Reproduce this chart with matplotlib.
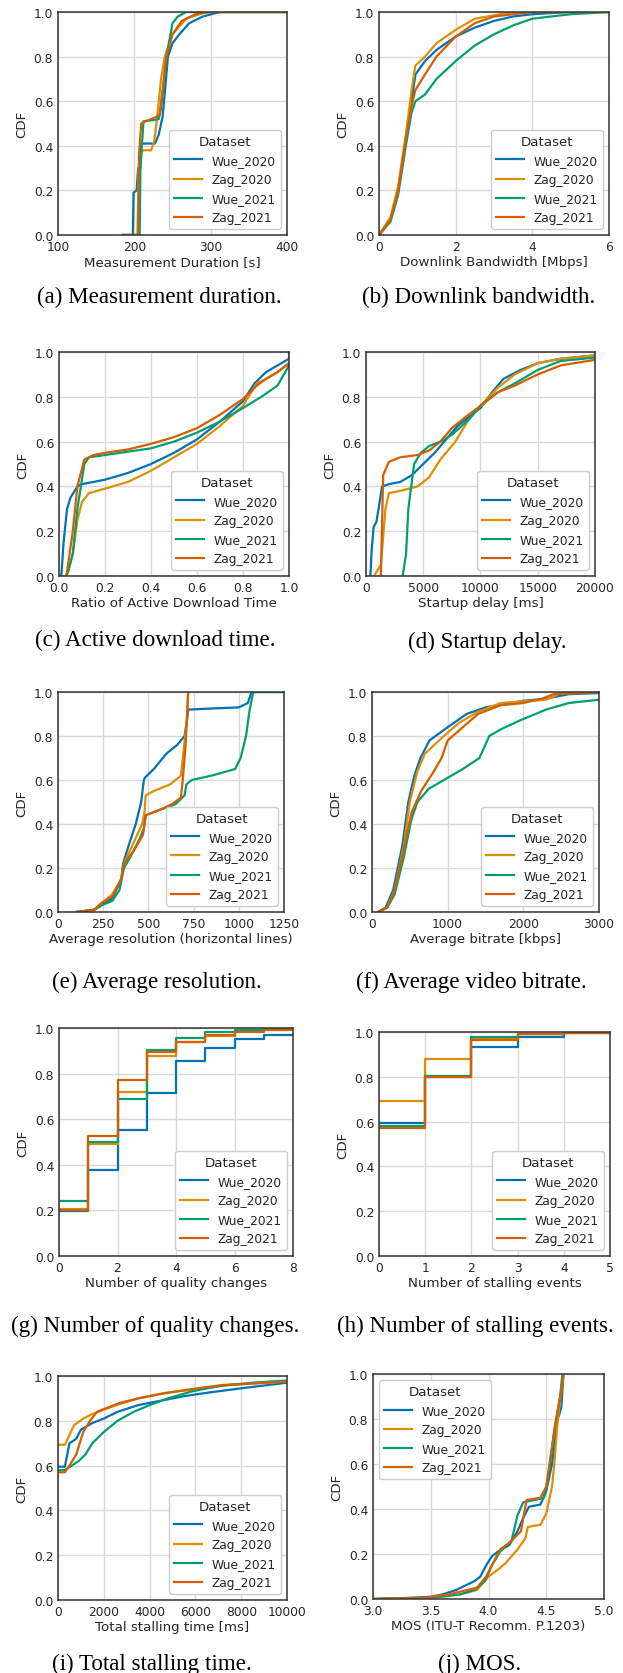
import matplotlib
matplotlib.use("Agg")
import matplotlib.pyplot as plt

W, H = 623, 1674
DPI = 100

datasets = ["Wue_2020", "Zag_2020", "Wue_2021", "Zag_2021"]
colors = ["#0173B2", "#DE8F05", "#029E73", "#D55E00"]

# ---------------- (a) Measurement duration [s] ----------------
dur_wue20_x = [185, 198, 199, 203, 205, 208, 209, 215, 227, 232, 237, 241, 244, 250, 259, 272, 290, 312, 400]
dur_wue20_y = [0.0, 0.0, 0.19, 0.20, 0.30, 0.30, 0.41, 0.41, 0.41, 0.45, 0.53, 0.68, 0.80, 0.86, 0.90, 0.95, 0.98, 1.0, 1.0]
dur_zag20_x = [185, 204, 206, 209, 212, 222, 226, 229, 235, 240, 250, 268, 294, 400]
dur_zag20_y = [0.0, 0.0, 0.30, 0.37, 0.38, 0.38, 0.42, 0.50, 0.70, 0.80, 0.90, 0.97, 1.0, 1.0]
dur_wue21_x = [185, 207, 208, 212, 225, 232, 235, 242, 250, 257, 268, 400]
dur_wue21_y = [0.0, 0.0, 0.30, 0.51, 0.515, 0.52, 0.57, 0.80, 0.95, 0.98, 1.0, 1.0]
dur_zag21_x = [185, 205, 206, 209, 215, 229, 233, 237, 242, 250, 262, 280, 300, 400]
dur_zag21_y = [0.0, 0.0, 0.35, 0.50, 0.51, 0.53, 0.54, 0.65, 0.80, 0.90, 0.96, 0.99, 1.0, 1.0]

# ---------------- (b) Downlink bandwidth [Mbps] ----------------
bw_wue20_x = [0, 0.3, 0.5, 0.7, 0.85, 0.95, 1.2, 1.5, 2.0, 2.5, 3.0, 3.5, 4.0, 5.0, 6.0]
bw_wue20_y = [0, 0.07, 0.2, 0.42, 0.6, 0.72, 0.78, 0.83, 0.89, 0.93, 0.96, 0.98, 0.99, 1.0, 1.0]
bw_zag20_x = [0, 0.3, 0.5, 0.7, 0.85, 0.95, 1.2, 1.5, 2.0, 2.5, 3.0, 3.5, 6.0]
bw_zag20_y = [0, 0.08, 0.22, 0.45, 0.65, 0.76, 0.80, 0.86, 0.92, 0.97, 0.985, 1.0, 1.0]
bw_wue21_x = [0, 0.3, 0.5, 0.7, 0.85, 0.95, 1.2, 1.5, 2.0, 2.5, 3.0, 3.5, 4.0, 4.5, 5.0, 6.0]
bw_wue21_y = [0, 0.06, 0.18, 0.40, 0.55, 0.60, 0.63, 0.70, 0.78, 0.85, 0.90, 0.94, 0.97, 0.98, 0.99, 1.0]
bw_zag21_x = [0, 0.3, 0.5, 0.7, 0.85, 0.95, 1.2, 1.5, 2.0, 2.5, 3.0, 3.5, 4.0, 6.0]
bw_zag21_y = [0, 0.07, 0.2, 0.43, 0.58, 0.65, 0.72, 0.80, 0.89, 0.95, 0.98, 0.99, 1.0, 1.0]

# ---------------- (c) Ratio of active download time ----------------
adt_wue20_x = [0.01, 0.02, 0.035, 0.05, 0.08, 0.1, 0.2, 0.3, 0.4, 0.5, 0.6, 0.7, 0.8, 0.85, 0.9, 0.95, 1.0, 1.0]
adt_wue20_y = [0.0, 0.15, 0.30, 0.35, 0.40, 0.41, 0.43, 0.46, 0.50, 0.55, 0.61, 0.69, 0.78, 0.86, 0.91, 0.94, 0.97, 1.0]
adt_zag20_x = [0.03, 0.04, 0.06, 0.08, 0.1, 0.13, 0.2, 0.3, 0.4, 0.5, 0.6, 0.7, 0.8, 0.86, 0.9, 0.95, 1.0]
adt_zag20_y = [0.0, 0.02, 0.10, 0.25, 0.33, 0.37, 0.39, 0.42, 0.47, 0.53, 0.59, 0.67, 0.76, 0.86, 0.88, 0.91, 0.95]
adt_wue21_x = [0.03, 0.04, 0.06, 0.08, 0.11, 0.13, 0.2, 0.3, 0.4, 0.5, 0.6, 0.7, 0.8, 0.88, 0.95, 1.0]
adt_wue21_y = [0.0, 0.02, 0.10, 0.30, 0.50, 0.53, 0.54, 0.555, 0.57, 0.60, 0.64, 0.69, 0.75, 0.80, 0.85, 0.94]
adt_zag21_x = [0.03, 0.035, 0.06, 0.08, 0.11, 0.15, 0.2, 0.3, 0.4, 0.5, 0.6, 0.7, 0.8, 0.86, 0.9, 0.95, 1.0]
adt_zag21_y = [0.0, 0.02, 0.20, 0.40, 0.52, 0.54, 0.55, 0.565, 0.59, 0.62, 0.66, 0.72, 0.79, 0.85, 0.88, 0.91, 0.95]

# ---------------- (d) Startup delay [ms] ----------------
sd_wue20_x = [380, 500, 670, 900, 1100, 1400, 2000, 3000, 4000, 5000, 6000, 7000, 8000, 10000, 11000, 12000, 13500, 15000, 17000, 20000]
sd_wue20_y = [0.0, 0.12, 0.22, 0.24, 0.30, 0.40, 0.41, 0.42, 0.45, 0.50, 0.55, 0.61, 0.67, 0.75, 0.82, 0.88, 0.92, 0.95, 0.97, 0.985]
sd_zag20_x = [700, 1300, 1700, 2000, 3000, 4500, 5500, 6500, 7800, 9000, 10000, 11500, 13000, 15000, 17000, 20000]
sd_zag20_y = [0.0, 0.05, 0.30, 0.37, 0.38, 0.40, 0.44, 0.52, 0.60, 0.70, 0.76, 0.84, 0.90, 0.95, 0.97, 0.985]
sd_wue21_x = [3200, 3500, 3700, 4200, 4800, 5500, 6500, 7500, 9000, 10000, 11500, 13000, 15000, 17000, 20000]
sd_wue21_y = [0.0, 0.10, 0.30, 0.50, 0.55, 0.58, 0.60, 0.63, 0.70, 0.76, 0.82, 0.86, 0.92, 0.96, 0.975]
sd_zag21_x = [1300, 1500, 2000, 3000, 4500, 5500, 6500, 7500, 8700, 10000, 11500, 13000, 15000, 17000, 20000]
sd_zag21_y = [0.0, 0.45, 0.51, 0.53, 0.54, 0.56, 0.60, 0.66, 0.71, 0.76, 0.82, 0.85, 0.90, 0.94, 0.965]

# ---------------- (e) Average resolution ----------------
res_wue20_x = [100, 200, 240, 300, 350, 360, 390, 430, 460, 475, 480, 530, 600, 660, 700, 715, 720, 850, 1000, 1050, 1070, 1250]
res_wue20_y = [0.0, 0.01, 0.03, 0.06, 0.15, 0.22, 0.30, 0.40, 0.50, 0.60, 0.61, 0.65, 0.72, 0.76, 0.80, 0.88, 0.92, 0.925, 0.93, 0.95, 1.0, 1.0]
res_zag20_x = [100, 200, 240, 300, 350, 365, 410, 465, 478, 485, 530, 620, 680, 690, 710, 720]
res_zag20_y = [0.0, 0.01, 0.04, 0.08, 0.15, 0.22, 0.30, 0.40, 0.45, 0.53, 0.55, 0.58, 0.62, 0.70, 0.85, 1.0]
res_wue21_x = [100, 200, 240, 300, 340, 365, 400, 450, 475, 485, 550, 650, 700, 710, 740, 850, 980, 1010, 1040, 1060, 1080, 1250]
res_wue21_y = [0.0, 0.01, 0.03, 0.05, 0.10, 0.20, 0.25, 0.33, 0.38, 0.44, 0.46, 0.49, 0.53, 0.58, 0.60, 0.62, 0.65, 0.70, 0.80, 0.92, 1.0, 1.0]
res_zag21_x = [100, 200, 240, 300, 350, 365, 420, 470, 485, 550, 630, 680, 690, 705, 715, 720]
res_zag21_y = [0.0, 0.01, 0.04, 0.07, 0.15, 0.22, 0.28, 0.35, 0.44, 0.46, 0.49, 0.52, 0.60, 0.75, 0.90, 1.0]

# ---------------- (f) Average bitrate [kbps] ----------------
br_wue20_x = [80, 180, 280, 400, 480, 560, 640, 760, 1000, 1250, 1500, 2000, 2300, 2600, 3000]
br_wue20_y = [0.0, 0.02, 0.10, 0.30, 0.50, 0.62, 0.70, 0.78, 0.84, 0.90, 0.93, 0.96, 0.97, 0.99, 0.995]
br_zag20_x = [80, 200, 300, 420, 500, 600, 700, 950, 1150, 1400, 1700, 2100, 2300, 2500, 3000]
br_zag20_y = [0.0, 0.02, 0.10, 0.30, 0.50, 0.64, 0.72, 0.80, 0.86, 0.91, 0.95, 0.96, 0.965, 0.995, 1.0]
br_wue21_x = [80, 200, 300, 420, 520, 600, 750, 950, 1200, 1420, 1550, 1700, 1950, 2300, 2600, 3000]
br_wue21_y = [0.0, 0.02, 0.08, 0.25, 0.42, 0.50, 0.56, 0.60, 0.65, 0.70, 0.80, 0.83, 0.87, 0.92, 0.95, 0.965]
br_zag21_x = [80, 200, 300, 430, 520, 650, 800, 920, 1000, 1200, 1400, 1700, 2000, 2250, 2400, 3000]
br_zag21_y = [0.0, 0.02, 0.10, 0.30, 0.45, 0.55, 0.63, 0.70, 0.78, 0.84, 0.90, 0.94, 0.95, 0.97, 0.99, 1.0]

# ---------------- (g) Number of quality changes ----------------
qc_x = [0, 1, 2, 3, 4, 5, 6, 7, 8]
qc_wue20_y = [0.196, 0.379, 0.553, 0.715, 0.855, 0.912, 0.950, 0.970, 0.975]
qc_zag20_y = [0.205, 0.493, 0.719, 0.876, 0.939, 0.965, 0.985, 0.994, 0.995]
qc_wue21_y = [0.241, 0.500, 0.687, 0.905, 0.958, 0.982, 0.993, 1.0, 1.0]
qc_zag21_y = [0.200, 0.525, 0.773, 0.895, 0.940, 0.968, 0.982, 0.992, 0.995]

# ---------------- (h) Number of stalling events ----------------
se_x = [0, 1, 2, 3, 4, 5]
se_wue20_y = [0.593, 0.797, 0.935, 0.979, 0.995, 0.997]
se_zag20_y = [0.693, 0.878, 0.967, 0.993, 1.0, 1.0]
se_wue21_y = [0.580, 0.803, 0.978, 0.990, 0.997, 0.998]
se_zag21_y = [0.570, 0.800, 0.964, 0.993, 0.997, 0.998]

# ---------------- (i) Total stalling time [ms] ----------------
st_wue20_x = [0, 300, 500, 800, 1000, 1500, 2000, 2600, 3500, 4500, 5500, 6500, 8000, 10000]
st_wue20_y = [0.595, 0.595, 0.70, 0.72, 0.76, 0.79, 0.81, 0.84, 0.87, 0.89, 0.91, 0.925, 0.945, 0.97]
st_zag20_x = [0, 300, 700, 1100, 1500, 2000, 2700, 3500, 4700, 6000, 7500, 10000]
st_zag20_y = [0.693, 0.693, 0.78, 0.81, 0.83, 0.85, 0.875, 0.90, 0.925, 0.94, 0.96, 0.975]
st_wue21_x = [0, 300, 600, 900, 1200, 1500, 2000, 2600, 3300, 4000, 4800, 5800, 7000, 8500, 10000]
st_wue21_y = [0.58, 0.58, 0.60, 0.62, 0.65, 0.70, 0.75, 0.80, 0.84, 0.87, 0.90, 0.93, 0.955, 0.97, 0.98]
st_zag21_x = [0, 300, 500, 800, 1100, 1400, 1700, 2200, 2700, 3500, 4500, 5700, 7200, 10000]
st_zag21_y = [0.57, 0.57, 0.60, 0.65, 0.75, 0.80, 0.84, 0.86, 0.88, 0.90, 0.92, 0.94, 0.96, 0.975]

# ---------------- (j) MOS ----------------
mos_wue20_x = [3.0, 3.3, 3.5, 3.6, 3.72, 3.82, 3.88, 3.93, 3.98, 4.03, 4.08, 4.18, 4.25, 4.30, 4.35, 4.45, 4.50, 4.55, 4.60, 4.63, 4.65]
mos_wue20_y = [0.0, 0.005, 0.01, 0.02, 0.04, 0.065, 0.08, 0.10, 0.15, 0.19, 0.21, 0.24, 0.30, 0.36, 0.41, 0.42, 0.48, 0.60, 0.80, 0.85, 1.0]
mos_zag20_x = [3.0, 3.5, 3.75, 3.90, 4.0, 4.08, 4.15, 4.25, 4.32, 4.34, 4.45, 4.50, 4.55, 4.57, 4.60, 4.65]
mos_zag20_y = [0.0, 0.005, 0.02, 0.04, 0.10, 0.13, 0.16, 0.22, 0.27, 0.32, 0.33, 0.38, 0.50, 0.60, 0.80, 1.0]
mos_wue21_x = [3.0, 3.5, 3.75, 3.88, 3.97, 4.03, 4.10, 4.20, 4.25, 4.30, 4.40, 4.48, 4.52, 4.57, 4.62, 4.64]
mos_wue21_y = [0.0, 0.005, 0.02, 0.04, 0.08, 0.15, 0.21, 0.26, 0.37, 0.43, 0.44, 0.45, 0.55, 0.75, 0.90, 1.0]
mos_zag21_x = [3.0, 3.45, 3.65, 3.90, 3.98, 4.08, 4.10, 4.18, 4.28, 4.33, 4.45, 4.50, 4.57, 4.62, 4.65]
mos_zag21_y = [0.0, 0.005, 0.02, 0.05, 0.10, 0.20, 0.22, 0.25, 0.30, 0.44, 0.45, 0.50, 0.75, 0.90, 1.0]

# ---------------- panel configuration ----------------
panels = [
    dict(series=[(dur_wue20_x, dur_wue20_y), (dur_zag20_x, dur_zag20_y), (dur_wue21_x, dur_wue21_y), (dur_zag21_x, dur_zag21_y)],
         step=False, xlim=(100, 400), xticks=[100, 200, 300, 400], xlabel="Measurement Duration [s]",
         caption="(a) Measurement duration.", box=(58, 13, 287, 236), cap=(159, 297), loc="lower right"),
    dict(series=[(bw_wue20_x, bw_wue20_y), (bw_zag20_x, bw_zag20_y), (bw_wue21_x, bw_wue21_y), (bw_zag21_x, bw_zag21_y)],
         step=False, xlim=(0, 6), xticks=[0, 2, 4, 6], xlabel="Downlink Bandwidth [Mbps]",
         caption="(b) Downlink bandwidth.", box=(379, 13, 609, 236), cap=(479, 297), loc="lower right"),
    dict(series=[(adt_wue20_x, adt_wue20_y), (adt_zag20_x, adt_zag20_y), (adt_wue21_x, adt_wue21_y), (adt_zag21_x, adt_zag21_y)],
         step=False, xlim=(0, 1), xticks=[0, 0.2, 0.4, 0.6, 0.8, 1.0], xlabel="Ratio of Active Download Time",
         caption="(c) Active download time.", box=(59, 353, 289, 577), cap=(155, 640), loc="lower right"),
    dict(series=[(sd_wue20_x, sd_wue20_y), (sd_zag20_x, sd_zag20_y), (sd_wue21_x, sd_wue21_y), (sd_zag21_x, sd_zag21_y)],
         step=False, xlim=(0, 20000), xticks=[0, 5000, 10000, 15000, 20000], xlabel="Startup delay [ms]",
         caption="(d) Startup delay.", box=(366, 353, 595, 577), cap=(487, 642), loc="lower right"),
    dict(series=[(res_wue20_x, res_wue20_y), (res_zag20_x, res_zag20_y), (res_wue21_x, res_wue21_y), (res_zag21_x, res_zag21_y)],
         step=False, xlim=(0, 1250), xticks=[0, 250, 500, 750, 1000, 1250], xlabel="Average resolution (horizontal lines)",
         caption="(e) Average resolution.", box=(58, 693, 284, 913), cap=(157, 982), loc="lower right"),
    dict(series=[(br_wue20_x, br_wue20_y), (br_zag20_x, br_zag20_y), (br_wue21_x, br_wue21_y), (br_zag21_x, br_zag21_y)],
         step=False, xlim=(0, 3000), xticks=[0, 1000, 2000, 3000], xlabel="Average bitrate [kbps]",
         caption="(f) Average video bitrate.", box=(372, 693, 599, 913), cap=(471, 982), loc="lower right"),
    dict(series=[(qc_x, qc_wue20_y), (qc_x, qc_zag20_y), (qc_x, qc_wue21_y), (qc_x, qc_zag21_y)],
         step=True, xlim=(0, 8), xticks=[0, 2, 4, 6, 8], xlabel="Number of quality changes",
         caption="(g) Number of quality changes.", box=(59, 1029, 293, 1257), cap=(155, 1326), loc="lower right"),
    dict(series=[(se_x, se_wue20_y), (se_x, se_zag20_y), (se_x, se_wue21_y), (se_x, se_zag21_y)],
         step=True, xlim=(0, 5), xticks=[0, 1, 2, 3, 4, 5], xlabel="Number of stalling events",
         caption="(h) Number of stalling events.", box=(379, 1033, 610, 1257), cap=(475, 1326), loc="lower right"),
    dict(series=[(st_wue20_x, st_wue20_y), (st_zag20_x, st_zag20_y), (st_wue21_x, st_wue21_y), (st_zag21_x, st_zag21_y)],
         step=False, xlim=(0, 10000), xticks=[0, 2000, 4000, 6000, 8000, 10000], xlabel="Total stalling time [ms]",
         caption="(i) Total stalling time.", box=(58, 1377, 287, 1601), cap=(152, 1664), loc="lower right"),
    dict(series=[(mos_wue20_x, mos_wue20_y), (mos_zag20_x, mos_zag20_y), (mos_wue21_x, mos_wue21_y), (mos_zag21_x, mos_zag21_y)],
         step=False, xlim=(3.0, 5.0), xticks=[3.0, 3.5, 4.0, 4.5, 5.0], xlabel="MOS (ITU-T Recomm. P.1203)",
         caption="(j) MOS.", box=(373, 1375, 604, 1600), cap=(480, 1664), loc="upper left"),
]

plt.rcParams["font.family"] = ["DejaVu Sans"]
FS_TICK = 8.8
FS_LAB = 9.6
TXT = "0.15"

fig = plt.figure(figsize=(W / DPI, H / DPI), dpi=DPI)
fig.patch.set_facecolor("white")

for p in panels:
    l, t, r, b = p["box"]
    ax = fig.add_axes([l / W, 1 - b / H, (r - l) / W, (b - t) / H])
    ax.set_facecolor("white")
    for (xs, ys), name, c in zip(p["series"], datasets, colors):
        if p["step"]:
            ax.step(xs, ys, where="post", color=c, lw=1.6, label=name)
        else:
            ax.plot(xs, ys, color=c, lw=1.6, label=name)
    ax.set_xlim(*p["xlim"])
    ax.set_ylim(0, 1)
    ax.set_xticks(p["xticks"])
    ax.set_yticks([0, 0.2, 0.4, 0.6, 0.8, 1.0])
    ax.set_yticklabels(["0.0", "0.2", "0.4", "0.6", "0.8", "1.0"])
    if p["xlim"] == (0, 1):
        ax.set_xticklabels(["0.0", "0.2", "0.4", "0.6", "0.8", "1.0"])
    if p["xlim"] == (3.0, 5.0):
        ax.set_xticklabels(["3.0", "3.5", "4.0", "4.5", "5.0"])
    ax.grid(True, color="0.85", lw=1.0)
    ax.set_axisbelow(True)
    ax.tick_params(length=0, pad=3.5, labelsize=FS_TICK, labelcolor=TXT)
    for s in ax.spines.values():
        s.set_color("0.2")
        s.set_linewidth(1.1)
    ax.set_xlabel(p["xlabel"], fontsize=FS_LAB, color=TXT, labelpad=1.5)
    ax.set_ylabel("CDF", fontsize=FS_LAB, color=TXT, labelpad=4)
    leg = ax.legend(title="Dataset", loc=p["loc"], fontsize=FS_TICK, title_fontsize=FS_LAB,
                    frameon=True, fancybox=True, edgecolor="0.8", framealpha=1.0,
                    borderaxespad=0.5, handlelength=2.3)
    for txt in leg.get_texts():
        txt.set_color(TXT)
    leg.get_title().set_color(TXT)
    fig.text(p["cap"][0] / W, 1 - p["cap"][1] / H, p["caption"], ha="center", va="center",
             fontsize=16.6, family=["Liberation Serif", "DejaVu Serif"], color="black")

fig.savefig("out.png", dpi=DPI)
